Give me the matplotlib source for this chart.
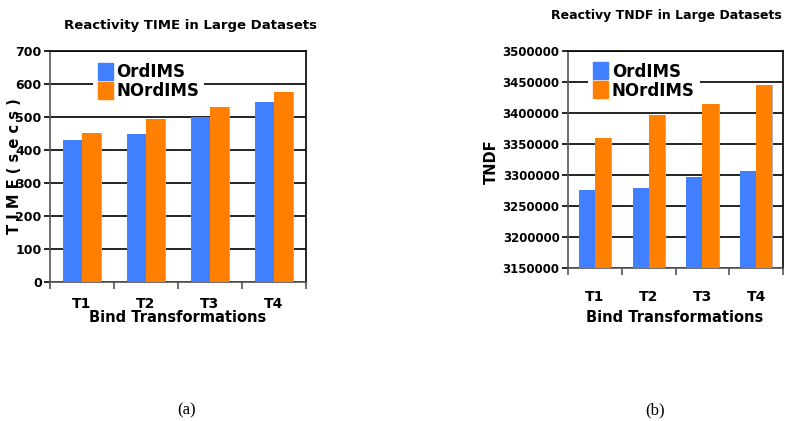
import matplotlib
matplotlib.use("Agg")
from matplotlib import pyplot as plt
from matplotlib.patches import Patch
from matplotlib.ticker import FuncFormatter
import numpy as np

cats = ["T1", "T2", "T3", "T4"]
time_ord = [430, 450, 500, 545]
time_nord = [453, 493, 530, 575]
tndf_ord = [3275500, 3278700, 3296500, 3306200]
tndf_nord = [3359500, 3396500, 3414000, 3445000]

blue = "#4080ff"
orange = "#ff7f00"

plt.rcParams["font.family"] = "DejaVu Sans"
plt.rcParams["font.weight"] = "bold"

fig = plt.figure(figsize=(7.88, 4.21), dpi=100)
W, H = 788, 421


def box(l, t, r, b):
    return [l / W, 1 - b / H, (r - l) / W, (b - t) / H]


def draw(ax, a, b, ymin, ymax, step, pad, ysize):
    x = np.arange(len(cats))
    w = 0.3
    ax.bar(x - w / 2 + 0.02, a, w, color="#b0b0b0", zorder=2)
    ax.bar(x + w / 2 + 0.02, b, w, color="#b0b0b0", zorder=2)
    ax.bar(x - w / 2, a, w, color=blue, zorder=3)
    ax.bar(x + w / 2, b, w, color=orange, zorder=3)
    ax.set_xlim(-0.5, len(cats) - 0.5)
    ax.set_ylim(ymin, ymax)
    ax.set_yticks(np.arange(ymin, ymax + 1, step))
    ax.yaxis.set_major_formatter(FuncFormatter(lambda v, p: "%d" % round(v)))
    ax.yaxis.grid(True, color="black", linewidth=1.2, zorder=0)
    ax.set_axisbelow(True)
    ax.set_xticks(np.arange(-0.5, len(cats), 1.0))
    ax.set_xticklabels([])
    ax.set_xticks(x, minor=True)
    ax.set_xticklabels(cats, minor=True, fontsize=10, fontweight="bold")
    ax.tick_params(axis="x", which="minor", length=0, pad=pad)
    ax.tick_params(axis="x", which="major", length=5, width=1.2, color="#555555")
    ax.tick_params(axis="y", length=4, width=1.2, labelsize=ysize, pad=2)
    for s in ax.spines.values():
        s.set_linewidth(1.2)
    ax.spines["bottom"].set_color("#555555")
    ax.spines["left"].set_color("#555555")
    for lab in ax.get_yticklabels():
        lab.set_fontweight("bold")


ax1 = fig.add_axes(box(50, 51, 306, 282))
draw(ax1, time_ord, time_nord, 0, 700, 100, 11, 9)
ax2 = fig.add_axes(box(568, 51, 783, 268))
draw(ax2, tndf_ord, tndf_nord, 3150000, 3500000, 50000, 15.5, 8.5)

handles = [Patch(color=blue, label="OrdIMS"), Patch(color=orange, label="NOrdIMS")]
for ax, loc in [(ax1, (0.135, 0.73)), (ax2, (0.056, 0.715))]:
    leg = ax.legend(handles=handles, loc="lower left", bbox_to_anchor=loc,
                    frameon=True, fancybox=False, edgecolor="white",
                    prop={"size": 12, "weight": "bold"}, handlelength=0.9,
                    handleheight=1.2, handletextpad=0.2, labelspacing=0.05,
                    borderpad=0.3, framealpha=1)
    leg.get_frame().set_linewidth(0)

fig.text(190 / W, 1 - 26 / H, "Reactivity TIME in Large Datasets", fontsize=9.5,
         fontweight="bold", ha="center", va="center")
fig.text(178 / W, 1 - 318 / H, "Bind Transformations", fontsize=10.5, fontweight="bold",
         ha="center", va="center")
fig.text(15 / W, 1 - 166 / H, "T I M E ( s e c s )", fontsize=10.5, fontweight="bold",
         ha="center", va="center", rotation=90)

fig.text(666 / W, 1 - 15 / H, "Reactivy TNDF in Large Datasets", fontsize=9,
         fontweight="bold", ha="center", va="center")
fig.text(675 / W, 1 - 318 / H, "Bind Transformations", fontsize=10.5, fontweight="bold",
         ha="center", va="center")
fig.text(491 / W, 1 - 162 / H, "TNDF", fontsize=10.5, fontweight="bold",
         ha="center", va="center", rotation=90)

fig.text(187 / W, 1 - 410 / H, "(a)", fontsize=12, family="Liberation Serif",
         fontweight="normal", ha="center", va="center")
fig.text(655 / W, 1 - 410 / H, "(b)", fontsize=12, family="Liberation Serif",
         fontweight="normal", ha="center", va="center")

fig.savefig("out.png", dpi=100)
